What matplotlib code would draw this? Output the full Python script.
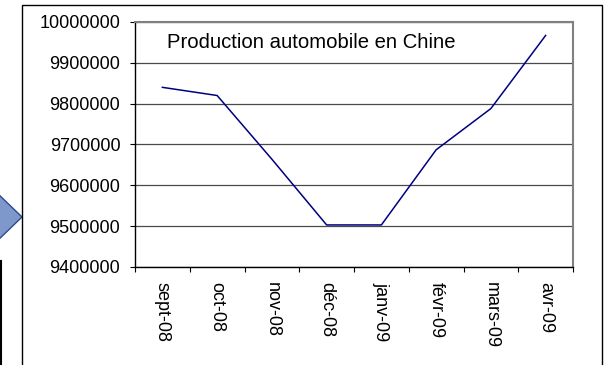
import matplotlib
matplotlib.use('Agg')
import matplotlib.pyplot as plt
from matplotlib.patches import Polygon, Rectangle
from matplotlib.lines import Line2D
from matplotlib.ticker import MultipleLocator, FixedLocator, NullFormatter

plt.rcParams['font.family'] = ['Liberation Sans', 'DejaVu Sans']

# données
mois = ['sept-08', 'oct-08', 'nov-08', 'déc-08', 'janv-09', 'févr-09', 'mars-09', 'avr-09']
production = [9840000, 9820000, 9664000, 9503000, 9503000, 9687000, 9788000, 9967000]
titre = 'Production automobile en Chine'

W, H = 606, 365
fig = plt.figure(figsize=(W / 100, H / 100), dpi=100)
fig.patch.set_facecolor('white')


def fx(x):
    return x / W


def fy(y):
    return 1 - y / H


# décor autour du graphique (flèche bleue, cadres)
fig.patches.append(Polygon([(fx(-6), fy(190)), (fx(22), fy(217)), (fx(-6), fy(244))],
                           closed=True, transform=fig.transFigure,
                           facecolor='#7F98CC', edgecolor='#2E4A8A', linewidth=1))
fig.lines.append(Line2D([fx(1), fx(1)], [fy(261), fy(370)], transform=fig.transFigure,
                        color='black', linewidth=1.5))
fig.patches.append(Rectangle((fx(22), fy(370)), fx(602) - fx(22), fy(5) - fy(370),
                             transform=fig.transFigure, facecolor='white',
                             edgecolor='black', linewidth=1))

ax = fig.add_axes([fx(135), fy(267), fx(573) - fx(135), fy(22) - fy(267)])
ax.set_zorder(5)
ax.set_facecolor('white')

x = list(range(len(mois)))
ax.plot(x, production, color='#000080', linewidth=1.1)

ax.set_xlim(-0.5, len(mois) - 0.5)
ax.set_ylim(9400000, 10000000)
ax.yaxis.set_major_locator(MultipleLocator(100000))
ax.yaxis.set_major_formatter(matplotlib.ticker.FuncFormatter(lambda v, p: f'{int(round(v))}'))
ax.grid(axis='y', color='#4a4a4a', linewidth=0.9)
ax.set_axisbelow(True)

# graduations entre les catégories, étiquettes au centre
ax.xaxis.set_major_locator(FixedLocator([i - 0.5 for i in range(len(mois) + 1)]))
ax.xaxis.set_major_formatter(NullFormatter())
ax.xaxis.set_minor_locator(FixedLocator(x))
ax.set_xticklabels(mois, minor=True, rotation=270, fontsize=13, va='top')
ax.tick_params(axis='x', which='minor', length=0, pad=11)
ax.tick_params(axis='x', which='major', length=3.6, direction='out', color='black')
ax.tick_params(axis='y', length=3.6, direction='out', labelsize=13, pad=7)

for s in ['left', 'bottom']:
    ax.spines[s].set_color('black')
    ax.spines[s].set_linewidth(1)
for s in ['top', 'right']:
    ax.spines[s].set_color('#808080')
    ax.spines[s].set_linewidth(1.5)

ax.text(fx(167 - 135) / (fx(573) - fx(135)), 0.915, titre, transform=ax.transAxes,
        fontsize=14.6, ha='left', va='center', color='black')

fig.savefig('out.png', dpi=100, facecolor=fig.get_facecolor())
